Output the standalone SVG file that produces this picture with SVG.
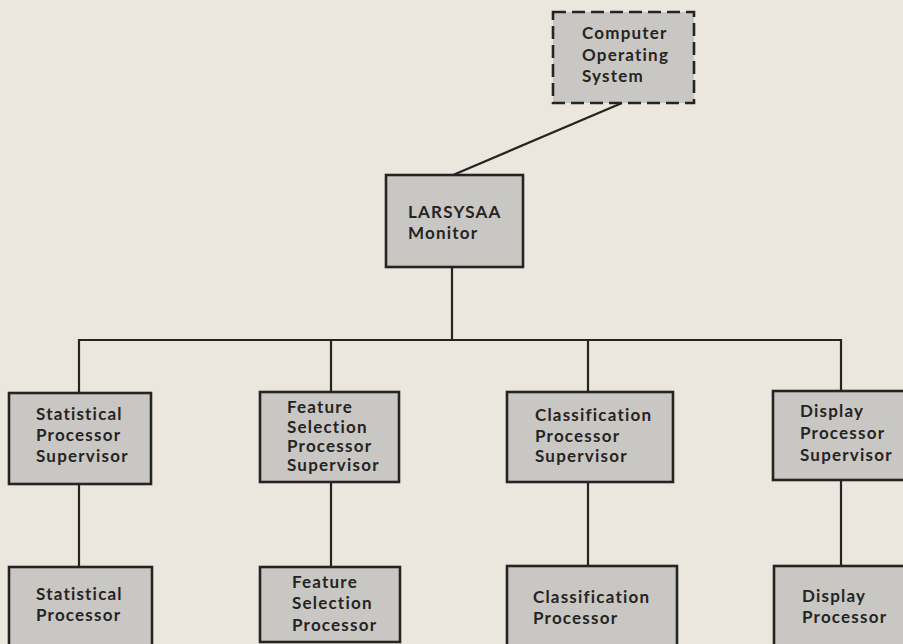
<svg xmlns="http://www.w3.org/2000/svg" width="903" height="644" viewBox="0 0 903 644">
<style>
.bg{fill:#ebe7df}
.box{fill:#c9c7c4;stroke:#262422;stroke-width:2.6}
.dash{fill:#c9c7c4;stroke:#262422;stroke-width:2.6;stroke-dasharray:13 6}
.wire{fill:none;stroke:#262422;stroke-width:2.2}
text{font-family:Lato,"Open Sans","DejaVu Sans",sans-serif;font-weight:bold;font-size:17px;fill:#262422;letter-spacing:1.2px}
</style>
<rect class="bg" x="0" y="0" width="903" height="644"/>
<g id="connectors">
<line class="wire" x1="622" y1="103" x2="453" y2="175"/>
<line class="wire" x1="452" y1="267" x2="452" y2="340"/>
<polyline class="wire" points="79,393 79,340 841,340 841,391"/>
<line class="wire" x1="331" y1="340" x2="331" y2="392"/>
<line class="wire" x1="588" y1="340" x2="588" y2="392"/>
<line class="wire" x1="79" y1="484" x2="79" y2="567"/>
<line class="wire" x1="331" y1="482" x2="331" y2="567"/>
<line class="wire" x1="588" y1="482" x2="588" y2="566"/>
<line class="wire" x1="841" y1="480" x2="841" y2="566"/>
</g>
<g id="cos">
<rect class="dash" x="553" y="12" width="141" height="91"/>
<text x="582" y="39">Computer</text>
<text x="582" y="61">Operating</text>
<text x="582" y="82">System</text>
</g>
<g id="monitor">
<rect class="box" x="386" y="175" width="137" height="92"/>
<text x="408" y="218">LARSYSAA</text>
<text x="408" y="239">Monitor</text>
</g>
<g id="stat-sup">
<rect class="box" x="9" y="393" width="142" height="91"/>
<text x="36" y="420">Statistical</text>
<text x="36" y="441">Processor</text>
<text x="36" y="462">Supervisor</text>
</g>
<g id="feat-sup">
<rect class="box" x="260" y="392" width="139" height="90"/>
<text x="287" y="413">Feature</text>
<text x="287" y="433">Selection</text>
<text x="287" y="452">Processor</text>
<text x="287" y="471">Supervisor</text>
</g>
<g id="class-sup">
<rect class="box" x="507" y="392" width="166" height="90"/>
<text x="535" y="421">Classification</text>
<text x="535" y="442">Processor</text>
<text x="535" y="462">Supervisor</text>
</g>
<g id="disp-sup">
<rect class="box" x="773" y="391" width="140" height="89"/>
<text x="800" y="417">Display</text>
<text x="800" y="439">Processor</text>
<text x="800" y="461">Supervisor</text>
</g>
<g id="stat-proc">
<rect class="box" x="9" y="567" width="143" height="90"/>
<text x="36" y="600">Statistical</text>
<text x="36" y="621">Processor</text>
</g>
<g id="feat-proc">
<rect class="box" x="260" y="567" width="140" height="75"/>
<text x="292" y="588">Feature</text>
<text x="292" y="609">Selection</text>
<text x="292" y="631">Processor</text>
</g>
<g id="class-proc">
<rect class="box" x="507" y="566" width="170" height="90"/>
<text x="533" y="603">Classification</text>
<text x="533" y="624">Processor</text>
</g>
<g id="disp-proc">
<rect class="box" x="774" y="566" width="140" height="90"/>
<text x="802" y="602">Display</text>
<text x="802" y="623">Processor</text>
</g>
</svg>
